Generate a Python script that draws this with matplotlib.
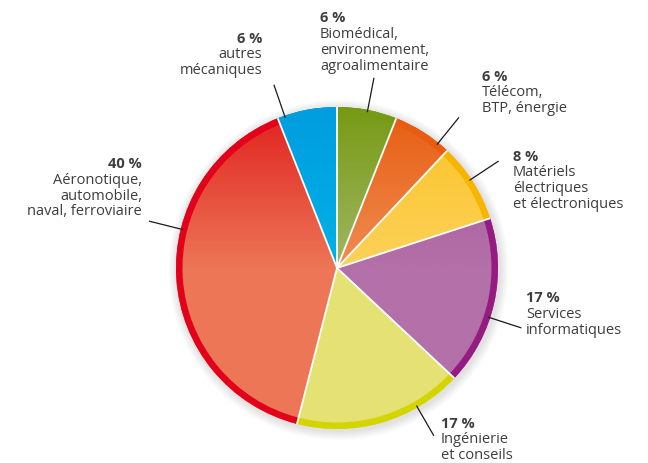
import matplotlib
matplotlib.use("Agg")
import matplotlib.pyplot as plt
import numpy as np
from matplotlib.colors import to_rgb
from matplotlib.patches import Circle

# data (clockwise from 12 o'clock)
percents = [6, 6, 8, 17, 17, 40, 6]
labels = [
    "Biomédical,\nenvironnement,\nagroalimentaire",
    "Télécom,\nBTP, énergie",
    "Matériels\nélectriques\net électroniques",
    "Services\ninformatiques",
    "Ingénierie\net conseils",
    "Aéronotique,\nautomobile,\nnaval, ferroviaire",
    "autres\nmécaniques",
]
top_colors = ["#779a14", "#e75c10", "#fbc221", "#a65598", "#e5e274", "#e1201e", "#009ddf"]
base_colors = ["#a0b765", "#ef8d52", "#fdd25c", "#b470a8", "#e5e274", "#ec7656", "#00b1e7"]
rim_colors = ["#779a14", "#e75c10", "#f7b500", "#951b81", "#d4d400", "#e2001a", "#009ddf"]

# layout (pixel coordinates of the 648x464 picture, y downwards)
W, H = 648, 464
CX, CY, R = 337, 269, 161
RIM = 6.5
label_x = [320, 482, 513, 526, 441, 142, 262]
label_y = [18, 77, 157, 298, 424, 164, 39]
label_ha = ["left", "left", "left", "left", "left", "right", "right"]
leader_angles = [79, 51, 33.5, -18, -60, 166, 109]
LINE = 16
TEXT = "#3d3d3d"

plt.rcParams["font.family"] = ["Open Sans", "DejaVu Sans"]

fig = plt.figure(figsize=(W / 100, H / 100), dpi=100)
ax = fig.add_axes([0, 0, 1, 1])
cy = H - CY

# soft shadow
for k in range(10):
    ax.add_patch(Circle((CX + 1.5, cy - 2), R + 1 + k * 0.9, color="black",
                        alpha=0.012, lw=0, zorder=0))

wedges, _ = ax.pie(percents, startangle=90, counterclock=False,
                   center=(CX, cy), radius=R, colors=base_colors,
                   wedgeprops=dict(linewidth=0, zorder=1))

# vertical gradient in each slice: dark at the top, base colour from the centre down
yy = np.linspace(-1, 1, 256)
t = np.clip(yy, 0, 1)[:, None]
for w, c_top, c_base in zip(wedges, top_colors, base_colors):
    top = np.array(to_rgb(c_top))
    base = np.array(to_rgb(c_base))
    img = (base * (1 - t) + top * t)[:, None, :]
    im = ax.imshow(img, extent=(CX - R, CX + R, cy - R, cy + R), origin="lower",
                   interpolation="bilinear", aspect="auto", zorder=2)
    im.set_clip_path(w)

# darker outer rim
ax.pie(percents, startangle=90, counterclock=False, center=(CX, cy),
       radius=R, colors=rim_colors,
       wedgeprops=dict(width=RIM, linewidth=0, zorder=3))

# white separators
for w in wedges:
    a = np.deg2rad(w.theta1)
    ax.plot([CX, CX + R * np.cos(a)], [cy, cy + R * np.sin(a)],
            color="white", lw=1.3, zorder=4, solid_capstyle="butt")

# leader lines and labels
for p, lab, x, y, ha, ang in zip(percents, labels, label_x, label_y, label_ha, leader_angles):
    a = np.deg2rad(ang)
    ax.plot([CX + R * 0.99 * np.cos(a), CX + R * 1.2 * np.cos(a)],
            [cy + R * 0.99 * np.sin(a), cy + R * 1.2 * np.sin(a)],
            color="#1a1a1a", lw=0.9, zorder=5)
    ax.text(x, H - y, f"{p} %", ha=ha, va="center", fontsize=10.5,
            fontweight="bold", color=TEXT)
    for i, line in enumerate(lab.split("\n")):
        ax.text(x, H - y - (i + 1) * LINE, line, ha=ha, va="center",
                fontsize=10.5, color=TEXT)

ax.set_xlim(0, W)
ax.set_ylim(0, H)
ax.set_aspect("equal")
ax.axis("off")

fig.savefig("out.png", dpi=100)
